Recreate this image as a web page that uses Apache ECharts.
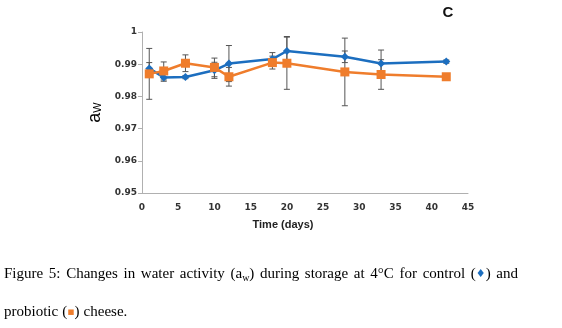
<!DOCTYPE html>
<html>
<head>
<meta charset="utf-8">
<script src="https://cdn.jsdelivr.net/npm/echarts@6/dist/echarts.min.js"></script>
<style>
html,body{margin:0;padding:0;background:#fff;}
#c{width:562px;height:328px;}
</style>
</head>
<body>
<div id="c"></div>
<script>
var days = [1, 3, 6, 10, 12, 18, 20, 28, 33, 42];
var control = [0.9887, 0.9859, 0.9860, 0.9881, 0.9902, 0.9916, 0.9941, 0.9923, 0.9902, 0.9908];
var controlErr = [0.0018, 0.0012, 0.0005, 0.0025, 0.0056, 0.0020, 0.0045, 0.0018, 0.0042, 0.0005];
var probiotic = [0.9870, 0.9879, 0.9903, 0.9890, 0.9861, 0.9905, 0.9903, 0.9876, 0.9868, 0.9861];
var probioticErr = [0.0079, 0.0028, 0.0026, 0.0029, 0.0029, 0.0020, 0.0081, 0.0105, 0.0046, 0.0004];
var yTicks = [0.95, 0.96, 0.97, 0.98, 0.99, 1];
var xTicks = [0, 5, 10, 15, 20, 25, 30, 35, 40, 45];

var BLUE = '#1c6ebf';
var ORANGE = '#ef7d2c';
var ERR = '#555555';

function pairs(vals) { return days.map(function (d, i) { return [d, vals[i]]; }); }
function errData(vals, errs) { return days.map(function (d, i) { return [d, vals[i] - errs[i], vals[i] + errs[i]]; }); }

function errRender(params, api) {
  var x = api.value(0);
  var lo = api.coord([x, api.value(1)]);
  var hi = api.coord([x, api.value(2)]);
  var cw = 3;
  var st = { stroke: ERR, lineWidth: 1 };
  return {
    type: 'group',
    children: [
      { type: 'line', shape: { x1: lo[0], y1: lo[1], x2: hi[0], y2: hi[1] }, style: st },
      { type: 'line', shape: { x1: lo[0] - cw, y1: lo[1], x2: lo[0] + cw, y2: lo[1] }, style: st },
      { type: 'line', shape: { x1: hi[0] - cw, y1: hi[1], x2: hi[0] + cw, y2: hi[1] }, style: st }
    ]
  };
}

// caption words (line 1 justified)
var SERIF = "'Liberation Serif', 'DejaVu Serif', serif";
var SYM = "'DejaVu Sans', sans-serif";
var capRich = {
  n: { fontSize: 15, fontFamily: SERIF, lineHeight: 16, verticalAlign: 'top', fill: '#000' },
  s: { fontSize: 10, fontFamily: SERIF, lineHeight: 10, padding: [9, 0, 0, 0], verticalAlign: 'bottom', fill: '#000' },
  b: { fontSize: 11, fontFamily: SYM, lineHeight: 16, verticalAlign: 'top', padding: [2, 0, 0, 0], fill: BLUE },
  o: { fontSize: 11, fontFamily: SYM, lineHeight: 16, verticalAlign: 'top', padding: [2, 0, 0, 0], fill: ORANGE }
};
var line1 = [
  [['n', 'Figure']], [['n', '5:']], [['n', 'Changes']], [['n', 'in']], [['n', 'water']], [['n', 'activity']],
  [['n', '(a'], ['s', 'w'], ['n', ')']], [['n', 'during']], [['n', 'storage']], [['n', 'at']], [['n', '4°C']],
  [['n', 'for']], [['n', 'control']], [['n', '('], ['b', '\u2666'], ['n', ')']], [['n', 'and']]
];
var line2 = [[['n', 'probiotic']], [['n', '('], ['o', '\u25AA'], ['n', ')']], [['n', 'cheese.']]];

var cv = document.createElement('canvas').getContext('2d');
function tokW(t) {
  var st = capRich[t[0]];
  cv.font = st.fontSize + 'px ' + st.fontFamily;
  return cv.measureText(t[1]).width;
}
function wordW(w) { return w.reduce(function (a, t) { return a + tokW(t); }, 0); }
function wordStr(w) { return w.map(function (t) { return '{' + t[0] + '|' + t[1] + '}'; }).join(''); }

var graphics = [];
(function () {
  var x0 = 4, x1 = 518, y = 267;
  var widths = line1.map(wordW);
  var total = widths.reduce(function (a, b) { return a + b; }, 0);
  var gap = (x1 - x0 - total) / (line1.length - 1);
  var x = x0;
  line1.forEach(function (w, i) {
    graphics.push({ type: 'text', x: x, y: y, style: { text: wordStr(w), rich: capRich, verticalAlign: 'top', align: 'left' } });
    x += widths[i] + gap;
  });
  var sp = 4.0;
  x = 4; y = 305;
  line2.forEach(function (w) {
    graphics.push({ type: 'text', x: x, y: y, style: { text: wordStr(w), rich: capRich, verticalAlign: 'top', align: 'left' } });
    x += wordW(w) + sp;
  });
})();

graphics.push({ type: 'text', x: 283, y: 225, style: { text: 'Time (days)', fontFamily: "'Liberation Sans', Arial, sans-serif", fontWeight: 'bold', fontSize: 11, fill: '#222', align: 'center', verticalAlign: 'middle' } });
graphics.push({ type: 'text', x: 448, y: 13, style: { text: 'C', fontFamily: "'Liberation Sans', Arial, sans-serif", fontWeight: 'bold', fontSize: 15, fill: '#111', align: 'center', verticalAlign: 'middle' } });

var chart = echarts.init(document.getElementById('c'), null, { renderer: 'canvas' });
var labelStyle = { fontFamily: "'DejaVu Sans', sans-serif", fontWeight: 'bold', fontSize: 9, color: '#333' };
chart.setOption({
  animation: false,
  backgroundColor: '#fff',
  grid: { left: 142, right: 94, top: 32, bottom: 135, containLabel: false },
  xAxis: {
    type: 'value', min: xTicks[0], max: xTicks[xTicks.length - 1], interval: 5,
    axisLine: { show: true, lineStyle: { color: '#b0b0b0', width: 1 } },
    axisTick: { show: false },
    splitLine: { show: false },
    axisLabel: Object.assign({ margin: 10 }, labelStyle)
  },
  yAxis: {
    type: 'value', min: yTicks[0], max: yTicks[yTicks.length - 1], interval: 0.01,
    axisLine: { show: true, lineStyle: { color: '#b0b0b0', width: 1 } },
    axisTick: { show: true, length: 4, lineStyle: { color: '#b0b0b0' } },
    splitLine: { show: false },
    axisLabel: Object.assign({ margin: 5, formatter: function (v) { return String(+v.toFixed(2)); } }, labelStyle),
    name: '{m|a}{s|W}',
    nameLocation: 'middle',
    nameRotate: 90,
    nameGap: 38,
    nameTextStyle: {
      rich: {
        m: { fontSize: 18, fontFamily: "'Liberation Sans', Arial, sans-serif", lineHeight: 18, verticalAlign: 'top', color: '#000' },
        s: { fontSize: 11, fontFamily: "'Liberation Sans', Arial, sans-serif", lineHeight: 11, padding: [10, 0, 0, 0], verticalAlign: 'bottom', color: '#000' }
      }
    }
  },
  series: [
    { type: 'custom', name: 'errC', renderItem: errRender, data: errData(control, controlErr), z: 1, encode: { x: 0, y: [1, 2] } },
    { type: 'custom', name: 'errP', renderItem: errRender, data: errData(probiotic, probioticErr), z: 1, encode: { x: 0, y: [1, 2] } },
    { type: 'line', name: 'control', data: pairs(control), z: 3, symbol: 'diamond', symbolSize: 8,
      lineStyle: { color: BLUE, width: 2.5 }, itemStyle: { color: BLUE } },
    { type: 'line', name: 'probiotic', data: pairs(probiotic), z: 4, symbol: 'rect', symbolSize: 9,
      lineStyle: { color: ORANGE, width: 2.5 }, itemStyle: { color: ORANGE } }
  ],
  graphic: graphics
});
</script>
</body>
</html>
